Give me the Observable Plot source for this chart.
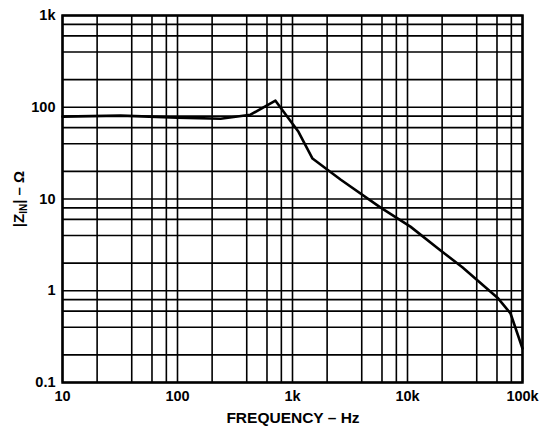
<!DOCTYPE html>
<html>
<head>
<meta charset="utf-8">
<script src="https://cdn.jsdelivr.net/npm/d3@7"></script>
<script src="https://cdn.jsdelivr.net/npm/@observablehq/plot@0.6"></script>
<style>
  html, body { margin: 0; padding: 0; background: #fff; }
  svg text { font-family: "Liberation Sans", Arial, sans-serif; font-weight: bold; }
</style>
</head>
<body>
<div id="chart"></div>
<script>
// Frequency (Hz) and input impedance |Z_IN| (ohm)
const freq = [10, 32, 100, 237, 431, 711, 1127, 1493, 2614, 5800, 10600, 19400, 30000, 60600, 78700, 100000];
const zin  = [79, 81, 77, 75, 83, 118, 54, 27.6, 16.3, 8.1, 5.0, 2.75, 1.8, 0.84, 0.565, 0.235];

const xTicks = [10, 100, 1000, 10000, 100000];
const xTickLabels = ["10", "100", "1k", "10k", "100k"];
const yTicks = [0.1, 1, 10, 100, 1000];
const yTickLabels = ["0.1", "1", "10", "100", "1k"];
const minorMultipliers = [2, 4, 6, 8];

const xLabel = "FREQUENCY – Hz";

const xGrid = xTicks.slice(0, -1).flatMap(d => [d, ...minorMultipliers.map(m => d * m)]).concat([xTicks[xTicks.length - 1]]);
const yGrid = yTicks.slice(0, -1).flatMap(d => [d, ...minorMultipliers.map(m => d * m)]).concat([yTicks[yTicks.length - 1]]);

const data = freq.map((f, i) => ({f, z: zin[i]}));

const plot = Plot.plot({
  width: 544,
  height: 432,
  marginLeft: 62,
  marginRight: 22,
  marginTop: 15,
  marginBottom: 50,
  style: {fontFamily: "Liberation Sans, Arial, sans-serif", fontSize: "14.5px", color: "#000", background: "#fff"},
  x: {type: "log", domain: [10, 100000]},
  y: {type: "log", domain: [0.1, 1000]},
  marks: [
    Plot.ruleX(xGrid, {stroke: "#000", strokeWidth: 1.6}),
    Plot.ruleY(yGrid, {stroke: "#000", strokeWidth: 1.6}),
    Plot.frame({stroke: "#000", strokeWidth: 2.5}),
    Plot.line(data, {x: "f", y: "z", stroke: "#000", strokeWidth: 2.6, curve: "linear"}),
    Plot.axisX({ticks: xTicks, tickFormat: d => xTickLabels[xTicks.indexOf(d)], tickSize: 0, tickPadding: 8,
      fontSize: 14.5, fontWeight: "bold", label: null}),
    Plot.axisY({ticks: yTicks, tickFormat: d => yTickLabels[yTicks.indexOf(d)], tickSize: 0, tickPadding: 7,
      fontSize: 14.5, fontWeight: "bold", label: null})
  ]
});

const svg = d3.select(plot);
// x-axis title
svg.append("text")
  .attr("x", 293).attr("y", 423)
  .attr("text-anchor", "middle")
  .attr("font-size", 15.5)
  .attr("font-weight", "bold")
  .attr("fill", "#000")
  .text(xLabel);

// y-axis title with subscript
const t = svg.append("text")
  .attr("transform", "translate(24,199) rotate(-90)")
  .attr("text-anchor", "middle")
  .attr("font-size", 15)
  .attr("font-weight", "bold")
  .attr("fill", "#000");
t.append("tspan").text("|Z");
t.append("tspan").attr("font-size", 10).attr("dy", 3).text("IN");
t.append("tspan").attr("dy", -3).text("| – Ω");

document.getElementById("chart").appendChild(plot);
</script>
</body>
</html>
